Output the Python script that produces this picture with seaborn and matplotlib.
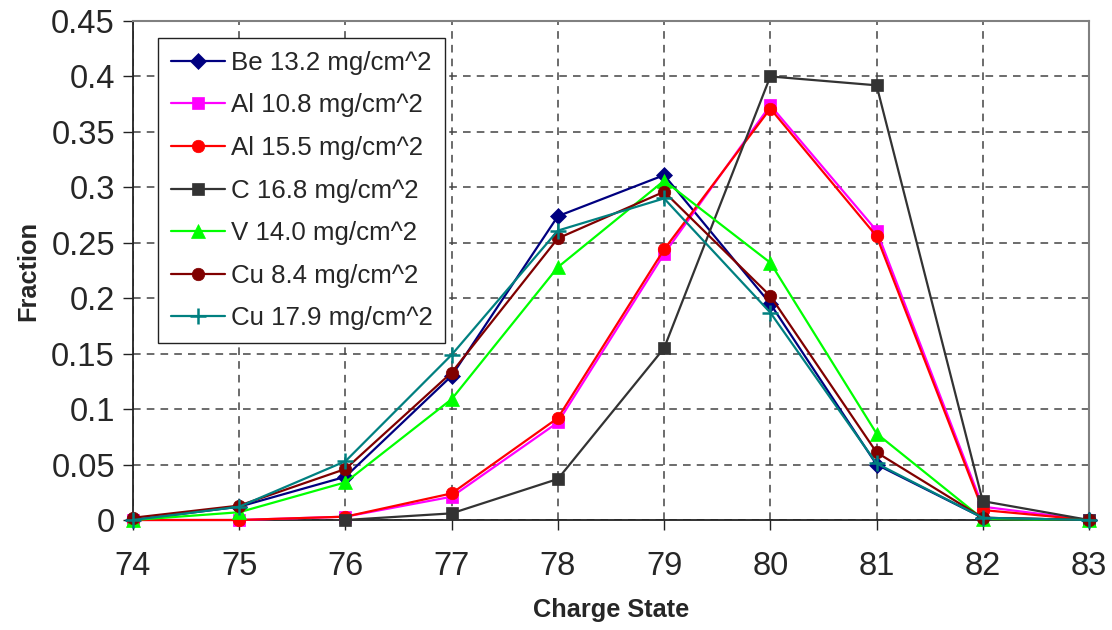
import matplotlib
matplotlib.use("Agg")
import matplotlib.pyplot as plt
import seaborn as sns
import pandas as pd

charge = [74, 75, 76, 77, 78, 79, 80, 81, 82, 83]
charge_c = [76, 77, 78, 79, 80, 81, 82, 83]

be_13_2 = [0.0, 0.012, 0.039, 0.130, 0.274, 0.311, 0.195, 0.050, 0.002, 0.0]
al_10_8 = [0.0, 0.0, 0.003, 0.021, 0.088, 0.240, 0.374, 0.261, 0.012, 0.0]
al_15_5 = [0.0, 0.0, 0.003, 0.024, 0.092, 0.244, 0.371, 0.256, 0.009, 0.0]
c_16_8 = [0.0, 0.006, 0.037, 0.155, 0.400, 0.392, 0.017, 0.0]
v_14_0 = [0.0, 0.007, 0.034, 0.109, 0.228, 0.306, 0.232, 0.078, 0.001, 0.0]
cu_8_4 = [0.002, 0.013, 0.046, 0.133, 0.254, 0.296, 0.202, 0.061, 0.002, 0.0]
cu_17_9 = [0.0, 0.012, 0.053, 0.149, 0.261, 0.290, 0.187, 0.051, 0.002, 0.0]

labels = ["Be 13.2 mg/cm^2", "Al 10.8 mg/cm^2", "Al 15.5 mg/cm^2", "C 16.8 mg/cm^2",
          "V 14.0 mg/cm^2", "Cu 8.4 mg/cm^2", "Cu 17.9 mg/cm^2"]
xs = [charge, charge, charge, charge_c, charge, charge, charge]
ys = [be_13_2, al_10_8, al_15_5, c_16_8, v_14_0, cu_8_4, cu_17_9]
colors = ["#000080", "#FF00FF", "#FF0000", "#333333", "#00FF00", "#800000", "#008080"]
markers = ["D", "s", "o", "s", "^", "o", "+"]
msizes = [8, 8, 9, 8, 10, 9, 12]

sns.set_style("white")
plt.rcParams["font.family"] = ["Liberation Sans", "DejaVu Sans"]

fig = plt.figure(figsize=(11.12, 6.30), dpi=100)
ax = fig.add_axes([133 / 1112, 1 - 520 / 630, (1089 - 133) / 1112, (520 - 21) / 630])

for x, y, lab, col, mk, ms in zip(xs, ys, labels, colors, markers, msizes):
    df = pd.DataFrame({"x": x, "y": y})
    sns.lineplot(data=df, x="x", y="y", ax=ax, color=col, marker=mk, markersize=ms,
                 markeredgecolor=col, markeredgewidth=1.8 if mk == "+" else 0.5,
                 linewidth=1.6, label=lab, clip_on=False, zorder=3)

ax.set_xlim(74, 83)
ax.set_ylim(0, 0.45)
ax.set_xticks(charge)
ax.set_yticks([0, 0.05, 0.1, 0.15, 0.2, 0.25, 0.3, 0.35, 0.4, 0.45])
ax.set_yticklabels(["0", "0.05", "0.1", "0.15", "0.2", "0.25", "0.3", "0.35", "0.4", "0.45"])
ax.grid(True, linestyle=(0, (5, 4)), color="#444444", linewidth=1.1)
ax.set_axisbelow(True)

for s in ["left", "bottom"]:
    ax.spines[s].set_color("#222222")
    ax.spines[s].set_linewidth(1.3)
for s in ["top", "right"]:
    ax.spines[s].set_color("#808080")
    ax.spines[s].set_linewidth(1.5)

ax.tick_params(axis="both", direction="out", length=7, width=1, color="#222222",
               labelsize=23.5, left=True, bottom=True)
ax.tick_params(axis="x", pad=15)
ax.tick_params(axis="y", pad=6)

ax.set_xlabel("Charge State", fontsize=18.3, fontweight="bold", labelpad=12)
ax.set_ylabel("Fraction", fontsize=18.3, fontweight="bold", labelpad=8)

leg = ax.legend(loc="upper left", bbox_to_anchor=(0.026, 0.966), borderaxespad=0,
                fontsize=18.6, frameon=True, fancybox=False, framealpha=1,
                edgecolor="#222222", handlelength=2.1, handletextpad=0.22,
                labelspacing=0.72, borderpad=0.5)
leg.get_frame().set_linewidth(1.0)
leg.set_zorder(5)

fig.savefig("out.png", dpi=100)
